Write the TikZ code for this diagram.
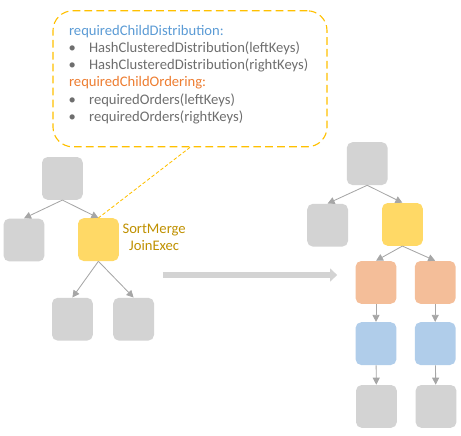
\documentclass[tikz,border=0pt]{standalone}
\usepackage{fontspec}
\setmainfont{Carlito}
\usetikzlibrary{arrows.meta, positioning}
\definecolor{plangray}{RGB}{211,211,211}
\definecolor{joinyellow}{RGB}{255,217,102}
\definecolor{sortorange}{RGB}{244,190,153}
\definecolor{exchblue}{RGB}{176,205,234}
\definecolor{edgegray}{RGB}{166,166,166}
\definecolor{notegold}{RGB}{255,192,0}
\definecolor{labelgold}{RGB}{191,144,0}
\definecolor{headblue}{RGB}{91,155,213}
\definecolor{headorange}{RGB}{237,125,49}
\definecolor{notetext}{RGB}{110,110,110}

\newcommand{\bulletline}[1]{\makebox[0.5cm][l]{\hspace{-0.01cm}\textbullet}#1}

\begin{document}
\begin{tikzpicture}[
    planbox/.style={rectangle, rounded corners=4pt, fill=plangray, minimum width=1.02cm, minimum height=1.07cm, inner sep=0pt},
    joinbox/.style={planbox, fill=joinyellow},
    sortbox/.style={planbox, fill=sortorange},
    exchbox/.style={planbox, fill=exchblue},
    child/.style={draw=edgegray, line width=0.6pt, -{Triangle[width=5pt,length=5pt]}},
    callout/.style={rectangle, rounded corners=14pt, draw=notegold, dash pattern=on 5.5pt off 3pt, line width=0.8pt, minimum width=6.85cm, minimum height=3.4cm},
    notes/.style={font=\fontsize{10.4}{12.25}\selectfont, text=notetext, align=left, inner sep=0pt},
    tail/.style={draw=notegold, dash pattern=on 2.5pt off 1.5pt, line width=0.6pt},
    planshift/.style={draw=plangray, line width=4.3pt, -{Triangle[width=9pt,length=5pt]}}
]
\useasboundingbox (0,0) rectangle (11.525,-10.875);
% callout with required child properties
\node[callout] (callout) at (4.75,-1.97) {};
\node[notes, anchor=north west] (reqs) at (1.72,-0.62) {%
\textcolor{headblue}{requiredChildDistribution:}\\
\bulletline{HashClusteredDistribution(leftKeys)}\\
\bulletline{HashClusteredDistribution(rightKeys)}\\
\textcolor{headorange}{requiredChildOrdering:}\\
\bulletline{requiredOrders(leftKeys)}\\
\bulletline{requiredOrders(rightKeys)}};
% plan before
\node[planbox] (lroot) at (1.56,-4.46) {};
\node[planbox] (lleft) at (0.60,-6.00) {};
\node[joinbox] (ljoin) at (2.46,-5.99) {};
\node[planbox] (lbl) at (1.81,-7.98) {};
\node[planbox] (lbr) at (3.34,-7.98) {};
\node[right=0.08cm of ljoin, font=\fontsize{10.4}{12.2}\selectfont, text=labelgold, align=center, inner sep=0pt, yshift=0.05cm] (joinlabel) {SortMerge\\JoinExec};
\draw[child] (lroot.south) -- (lleft.north);
\draw[child] (lroot.south) -- (ljoin.north);
\draw[child] (ljoin.south) -- (lbl.north);
\draw[child] (ljoin.south) -- (lbr.north);
\draw[tail] (callout.south) -- (ljoin.north);
% rule applied
\coordinate (shiftstart) at (4.07,-6.875);
\coordinate (shiftend) at (8.43,-6.875);
\draw[planshift] (shiftstart) -- (shiftend);
% plan after
\node[planbox] (rroot) at (9.18,-4.09) {};
\node[planbox] (rleft) at (8.19,-5.63) {};
\node[joinbox] (rjoin) at (10.06,-5.61) {};
\node[sortbox] (rsortl) at (9.40,-7.06) {};
\node[sortbox] (rsortr) at (10.88,-7.06) {};
\node[exchbox] (rexl) at (9.40,-8.59) {};
\node[exchbox] (rexr) at (10.88,-8.59) {};
\node[planbox] (rleafl) at (9.41,-10.16) {};
\node[planbox] (rleafr) at (10.90,-10.16) {};
\draw[child] (rroot.south) -- (rleft.north);
\draw[child] (rroot.south) -- (rjoin.north);
\draw[child] (rjoin.south) -- (rsortl.north);
\draw[child] (rjoin.south) -- (rsortr.north);
\draw[child] (rsortl) -- (rexl);
\draw[child] (rsortr) -- (rexr);
\draw[child] (rexl) -- (rleafl);
\draw[child] (rexr) -- (rleafr);
\end{tikzpicture}
\end{document}
